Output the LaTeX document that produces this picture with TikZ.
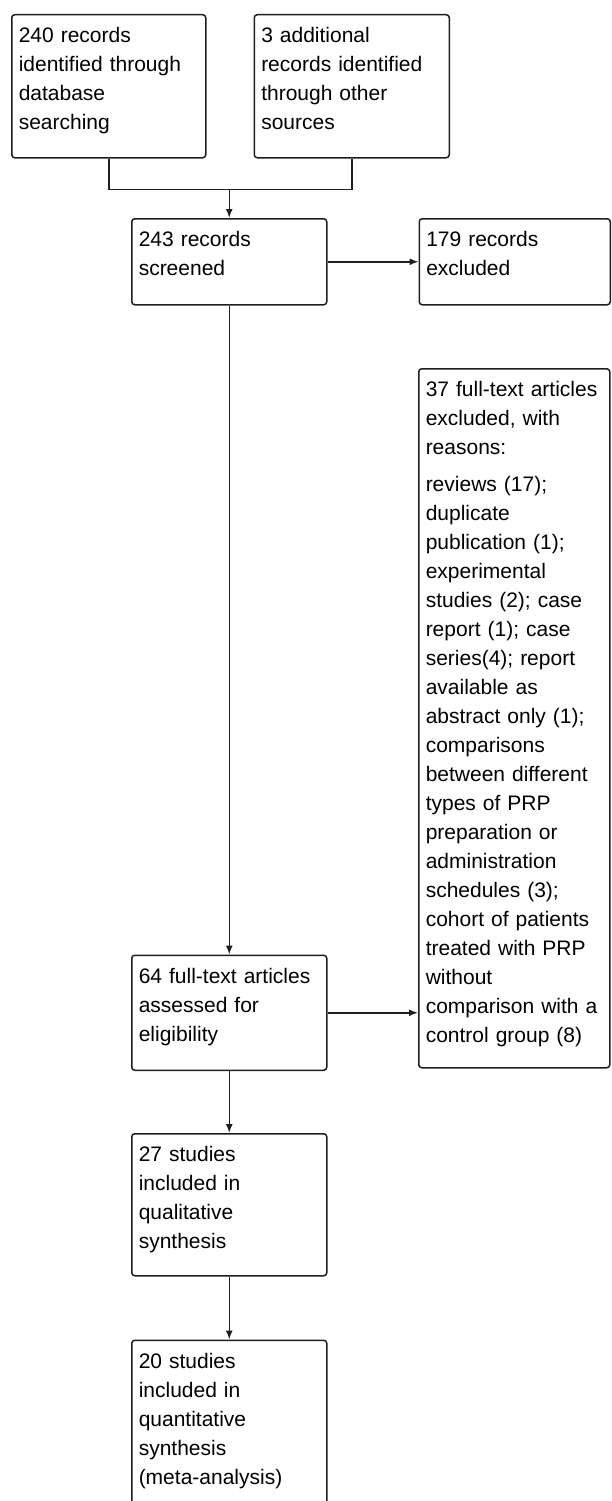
\documentclass[tikz,border=0pt]{standalone}
\usepackage{fontspec}
\setmainfont{Liberation Sans}
\usetikzlibrary{arrows.meta,positioning}
\definecolor{boxInk}{RGB}{30,30,30}
\tikzset{
  flowbox/.style={draw=boxInk, line width=1.5pt, rounded corners=3pt, fill=white, align=left,
    text width=181pt, inner xsep=7pt, inner ysep=13pt, text height=15pt,
    font=\fontsize{21pt}{29pt}\selectfont},
  sidebox/.style={flowbox, text width=177pt},
  line/.style={draw=boxInk, line width=1.5pt},
  flow/.style={line, -{Latex[length=9pt,width=7pt]}}
}

\begin{document}
\begin{tikzpicture}[x=1pt, y=-1pt]
        \useasboundingbox (0,0) rectangle (611,1501);
        \clip (0,0) rectangle (611,1501);
        \node[flowbox, anchor=north west, text width=180pt, text depth=102pt] (records) at (11,14) {240 records\\identified through\\database\\searching};
        \node[flowbox, right=47pt of records, text depth=102pt] (other) {3 additional\\records identified\\through other\\sources};
        \node[flowbox, anchor=north west, text depth=45pt] (screened) at (131,218) {243 records\\screened};
        \node[sidebox, right=91pt of screened, text depth=45pt] (excluded) {179 records\\excluded};
        \node[sidebox, anchor=north west, text depth=658pt] (fullexcl) at (418,368) {37 full-text articles\\excluded, with\\reasons:\\[8pt]reviews (17);\\duplicate\\publication (1);\\experimental\\studies (2); case\\report (1); case\\series(4); report\\available as\\abstract only (1);\\comparisons\\between different\\types of PRP\\preparation or\\administration\\schedules (3);\\cohort of patients\\treated with PRP\\without\\comparison with a\\control group (8)};
        \node[flowbox, below=649pt of screened, text depth=74pt] (fulltext) {64 full-text articles\\assessed for\\eligibility};
        \node[flowbox, below=62pt of fulltext, text depth=101pt] (qualit) {27 studies\\included in\\qualitative\\synthesis};
        \node[flowbox, below=63pt of qualit, text depth=150pt] (quantit) {20 studies\\included in\\quantitative\\synthesis\\(meta-analysis)};
        \coordinate (merge) at ([yshift=-31pt]records.south -| screened.north);
        \draw[line] (records.south) |- (merge) -| (other.south);
        \draw[flow] (merge) -- (screened.north);
        \draw[flow] (screened.east) -- (excluded.west);
        \draw[flow] (screened.south) -- (fulltext.north);
        \draw[flow] (fulltext.east) -- (fulltext.east -| fullexcl.west);
        \draw[flow] (fulltext.south) -- (qualit.north);
        \draw[flow] (qualit.south) -- (quantit.north);
      \end{tikzpicture}
\end{document}
